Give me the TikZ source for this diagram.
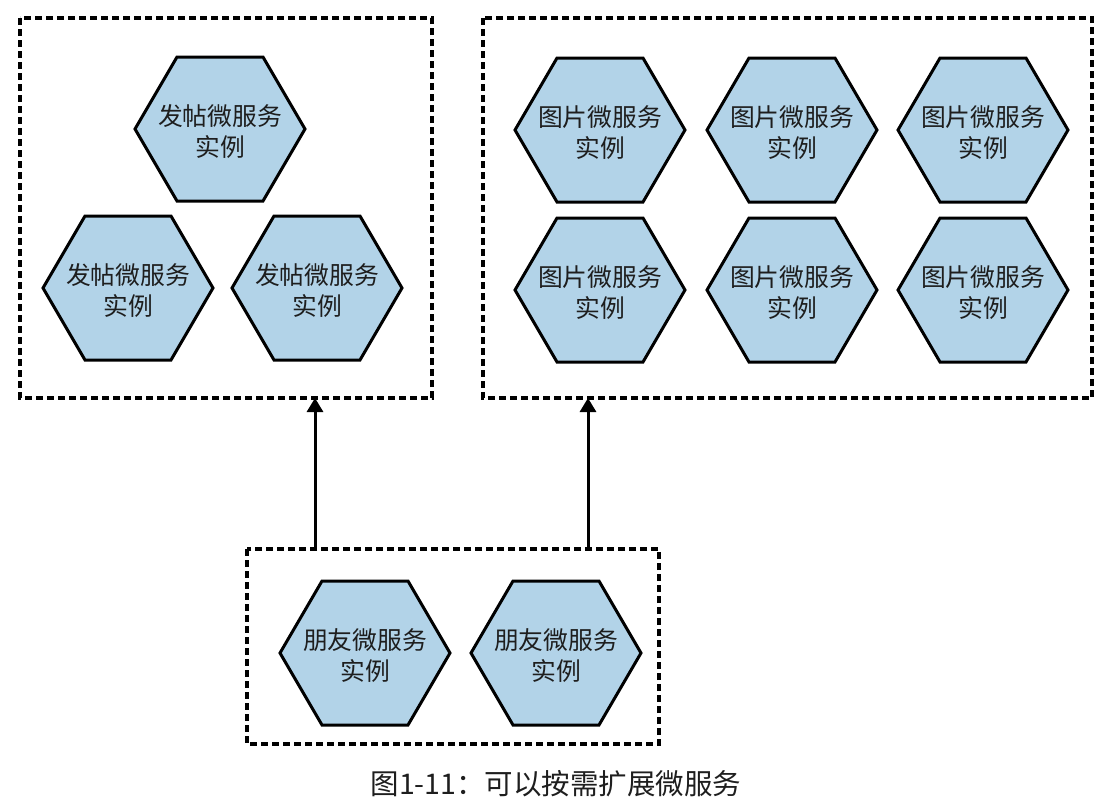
\documentclass[tikz,border=0pt]{standalone}
\usepackage{fontspec}
\setmainfont{Noto Sans CJK SC}
\usetikzlibrary{arrows.meta}
\definecolor{hexfill}{RGB}{178,211,232}
\definecolor{ink}{RGB}{30,30,30}
\tikzset{
  hexagon/.style={draw=black, line width=3pt, fill=hexfill, line join=miter},
  svc/.style={text=ink, align=center, inner sep=0pt, yshift=-2.5pt,
    font=\fontsize{24.8}{30.5}\selectfont},
  group/.style={draw=black, line width=3.2pt, dash pattern=on 7pt off 4pt},
  link/.style={line width=3pt, -{Triangle[length=14pt,width=16pt]}},
}
\begin{document}
\begin{tikzpicture}[x=1pt,y=-1pt]
\useasboundingbox (0,0) rectangle (1103,806);
% service groups
\draw[group] (20,18) rectangle (432,398);
\draw[group] (483,18) rectangle (1092,398);
\draw[group] (247,549) rectangle (659,744);
\coordinate (gpost) at (315,398);
\coordinate (gimg) at (588,398);
\coordinate (sfa) at (315,549);
\coordinate (sfb) at (588,549);
% service instances: hexagon outline, then its label node
\foreach \n/\x/\y/\t in {
    p1/220/129/发帖, p2/128/288/发帖, p3/317/288/发帖,
    i1/600/130/图片, i2/792/130/图片, i3/983/130/图片,
    i4/600/290/图片, i5/792/290/图片, i6/983/290/图片,
    f1/365/653/朋友, f2/556/653/朋友} {
  \draw[hexagon, shift={(\x,\y)}]
    (-85,0) -- (-43,-72) -- (43,-72) -- (85,0) -- (43,72) -- (-43,72) -- cycle;
  \node[svc] (\n) at (\x,\y) {\t 微服务\\实例};
}
% calls between groups
\draw[link] (sfa) -- (gpost);
\draw[link] (sfb) -- (gimg);
% caption
\node[text=ink, font=\fontsize{28.5}{32}\selectfont] (cap) at (556,784) {图1-11：可以按需扩展微服务};
\end{tikzpicture}
\end{document}
